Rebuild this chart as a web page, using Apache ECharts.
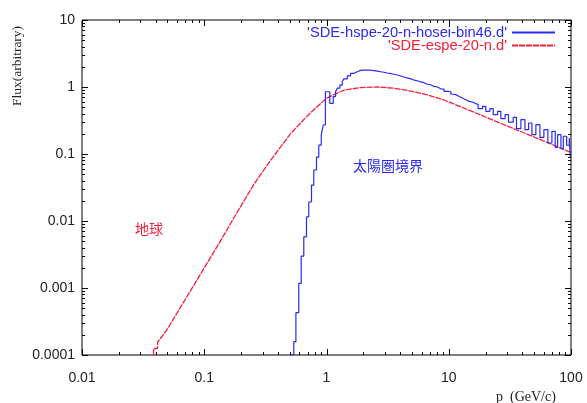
<!DOCTYPE html>
<html>
<head>
<meta charset="utf-8">
<script src="https://cdn.jsdelivr.net/npm/echarts@6/dist/echarts.min.js"></script>
<style>
  html, body { margin: 0; background: #fff; }
  #chart { width: 587px; height: 403px; }
</style>
</head>
<body>
<div id="chart"></div>
<script>
// axis labels
var xTickLabels = ['0.01', '0.1', '1', '10', '100'];
var yTickLabels = ['0.0001', '0.001', '0.01', '0.1', '1', '10'];
var seriesNames = ["'SDE-hspe-20-n-hosei-bin46.d'", "'SDE-espe-20-n.d'"];

// 太陽圏境界 (histogram, bin left edge + value)
var hspeData = [
  [0.514, 0.0001], [0.540, 0.000158], [0.562, 0.000428], [0.593, 0.00117],
  [0.621, 0.0030], [0.652, 0.0058], [0.686, 0.0115], [0.716, 0.0192],
  [0.754, 0.0344], [0.787, 0.0577], [0.828, 0.090], [0.865, 0.136],
  [0.906, 0.192], [0.940, 0.271], [0.980, 0.85], [1.064, 0.57],
  [1.135, 0.72], [1.186, 0.85], [1.224, 0.96], [1.286, 1.07],
  [1.345, 1.20], [1.387, 1.32], [1.479, 1.47], [1.574, 1.60],
  [1.676, 1.69], [1.786, 1.77], [1.90, 1.79], [2.02, 1.79],
  [2.16, 1.78], [2.30, 1.76], [2.44, 1.73], [2.61, 1.69],
  [2.78, 1.66], [2.95, 1.62], [3.14, 1.58], [3.35, 1.55],
  [3.56, 1.51], [3.80, 1.46], [4.05, 1.41], [4.31, 1.37],
  [4.58, 1.32], [4.89, 1.27], [5.20, 1.24], [5.54, 1.19],
  [5.89, 1.16], [6.28, 1.10], [6.68, 1.08], [7.11, 1.02],
  [7.58, 1.00], [8.07, 0.94], [8.59, 0.93], [9.15, 0.86],
  [9.74, 0.85], [10.4, 0.78], [10.9, 0.77], [11.4, 0.726],
  [12.1, 0.686], [12.9, 0.646], [13.8, 0.611], [14.7, 0.597],
  [15.6, 0.576], [16.3, 0.545], [17.4, 0.474], [18.9, 0.515],
  [20.1, 0.434], [21.7, 0.474], [23.1, 0.386], [25.1, 0.434],
  [26.7, 0.337], [28.9, 0.386], [30.8, 0.300], [33.7, 0.353],
  [35.8, 0.239], [38.9, 0.325], [42.0, 0.231], [45.0, 0.290],
  [47.9, 0.194], [51.6, 0.274], [55.7, 0.177], [60.0, 0.231],
  [64.7, 0.146], [69.8, 0.218], [74.3, 0.126], [77.7, 0.194],
  [82.7, 0.120], [86.5, 0.184], [92.1, 0.135], [96.8, 0.173],
  [98.6, 0.092], [100, 0.092]
];

// 地球
var espeData = [
  [0.0385, 0.0001], [0.0385, 0.000125], [0.0415, 0.000125], [0.0415, 0.000155],
  [0.0494, 0.000236], [0.0676, 0.00061], [0.0871, 0.00131], [0.100, 0.0020],
  [0.127, 0.0041], [0.185, 0.0133], [0.254, 0.035], [0.348, 0.080],
  [0.507, 0.20], [0.695, 0.37], [1.00, 0.68], [1.39, 0.90],
  [1.90, 0.98], [2.61, 1.0], [3.56, 0.96], [4.89, 0.87],
  [6.69, 0.76], [9.15, 0.64], [16.1, 0.42], [30.3, 0.26],
  [56.8, 0.163], [100, 0.105]
];

var BLUE = '#2a2af5';
var RED = '#f5203a';
var SANS = '"Liberation Sans", Arial, sans-serif';
var SERIF = '"Liberation Serif", "Times New Roman", serif';
var CJK = '"Noto Sans CJK JP", sans-serif';

// gnuplot style ticks: 1..9 per decade, drawn inward on all sides
var xTicks = [], yTicks = [];
for (var e = -2; e <= 2; e++) {
  for (var m = 1; m < 10; m++) {
    if (e === 2 && m > 1) break;
    xTicks.push([m * Math.pow(10, e), 1, m === 1 ? 1 : 0]);
  }
}
for (var e2 = -4; e2 <= 1; e2++) {
  for (var m2 = 1; m2 < 10; m2++) {
    if (e2 === 1 && m2 > 1) break;
    yTicks.push([1, m2 * Math.pow(10, e2), m2 === 1 ? 1 : 0]);
  }
}

function tickRenderer(dir) {
  return function (params, api) {
    var cs = params.coordSys;
    var len = api.value(2) ? 6 : 3;
    var st = { stroke: '#000', lineWidth: 1 };
    if (dir === 'x') {
      var px = Math.round(api.coord([api.value(0), 1])[0]) + 0.5;
      var yb = cs.y + cs.height, yt = cs.y;
      return { type: 'group', children: [
        { type: 'line', shape: { x1: px, y1: yb, x2: px, y2: yb - len }, style: st },
        { type: 'line', shape: { x1: px, y1: yt, x2: px, y2: yt + len }, style: st }
      ] };
    }
    var py = Math.round(api.coord([1, api.value(1)])[1]) + 0.5;
    var xl = cs.x, xr = cs.x + cs.width;
    return { type: 'group', children: [
      { type: 'line', shape: { x1: xl, y1: py, x2: xl + len, y2: py }, style: st },
      { type: 'line', shape: { x1: xr, y1: py, x2: xr - len, y2: py }, style: st }
    ] };
  };
}

var myChart = echarts.init(document.getElementById('chart'), null, { renderer: 'canvas' });

var legendBase = {
  right: 31, padding: 0, align: 'right', selectedMode: false,
  itemWidth: 43, itemHeight: 10,
  itemStyle: { opacity: 0 },
  textStyle: { fontSize: 14.7, fontFamily: SANS }
};

var option = {
  backgroundColor: '#fff',
  animation: false,
  grid: {
    left: 82, top: 20, right: 16, bottom: 48,
    show: true, borderColor: '#000', borderWidth: 1
  },
  xAxis: {
    type: 'log', logBase: 10, min: 0.01, max: 100,
    axisLine: { show: false },
    axisTick: { show: false },
    splitLine: { show: false },
    axisLabel: {
      margin: 16, color: '#222', fontSize: 14, fontFamily: SANS,
      formatter: function (v) { return xTickLabels[Math.round(Math.log10(v)) + 2]; }
    }
  },
  yAxis: {
    type: 'log', logBase: 10, min: 0.0001, max: 10,
    axisLine: { show: false },
    axisTick: { show: false },
    splitLine: { show: false },
    axisLabel: {
      margin: 7, color: '#222', fontSize: 14, fontFamily: SANS,
      formatter: function (v) { return yTickLabels[Math.round(Math.log10(v)) + 4]; }
    }
  },
  legend: [
    Object.assign({}, legendBase, {
      top: 25,
      data: [{ name: seriesNames[0], textStyle: { color: BLUE } }]
    }),
    Object.assign({}, legendBase, {
      top: 38,
      data: [{ name: seriesNames[1], textStyle: { color: RED } }]
    })
  ],
  series: [
    {
      name: seriesNames[0],
      type: 'line',
      step: 'end',
      data: hspeData,
      symbol: 'none',
      color: BLUE,
      lineStyle: { color: BLUE, width: 1.2 },
      z: 3
    },
    {
      name: seriesNames[1],
      type: 'line',
      data: espeData,
      symbol: 'none',
      color: RED,
      lineStyle: { color: RED, width: 1.3, type: [6, 1] },
      z: 2
    },
    { type: 'custom', renderItem: tickRenderer('x'), data: xTicks, silent: true, clip: false, z: 5 },
    { type: 'custom', renderItem: tickRenderer('y'), data: yTicks, silent: true, clip: false, z: 5 }
  ],
  graphic: [
    {
      type: 'text', x: 17, y: 66, rotation: Math.PI / 2,
      style: { text: 'Flux(arbitrary)', font: '13.5px ' + SERIF, fill: '#222', textAlign: 'center', textVerticalAlign: 'middle' }
    },
    {
      type: 'text', x: 496, y: 397,
      style: { text: 'p  (GeV/c)', font: '14px ' + SERIF, fill: '#222', textAlign: 'left', textVerticalAlign: 'middle' }
    },
    {
      type: 'text', x: 149, y: 229,
      style: { text: '地球', font: '14px ' + CJK, fill: RED, textAlign: 'center', textVerticalAlign: 'middle' }
    },
    {
      type: 'text', x: 388, y: 166,
      style: { text: '太陽圏境界', font: '14px ' + CJK, fill: BLUE, textAlign: 'center', textVerticalAlign: 'middle' }
    }
  ]
};

myChart.setOption(option);
</script>
</body>
</html>
